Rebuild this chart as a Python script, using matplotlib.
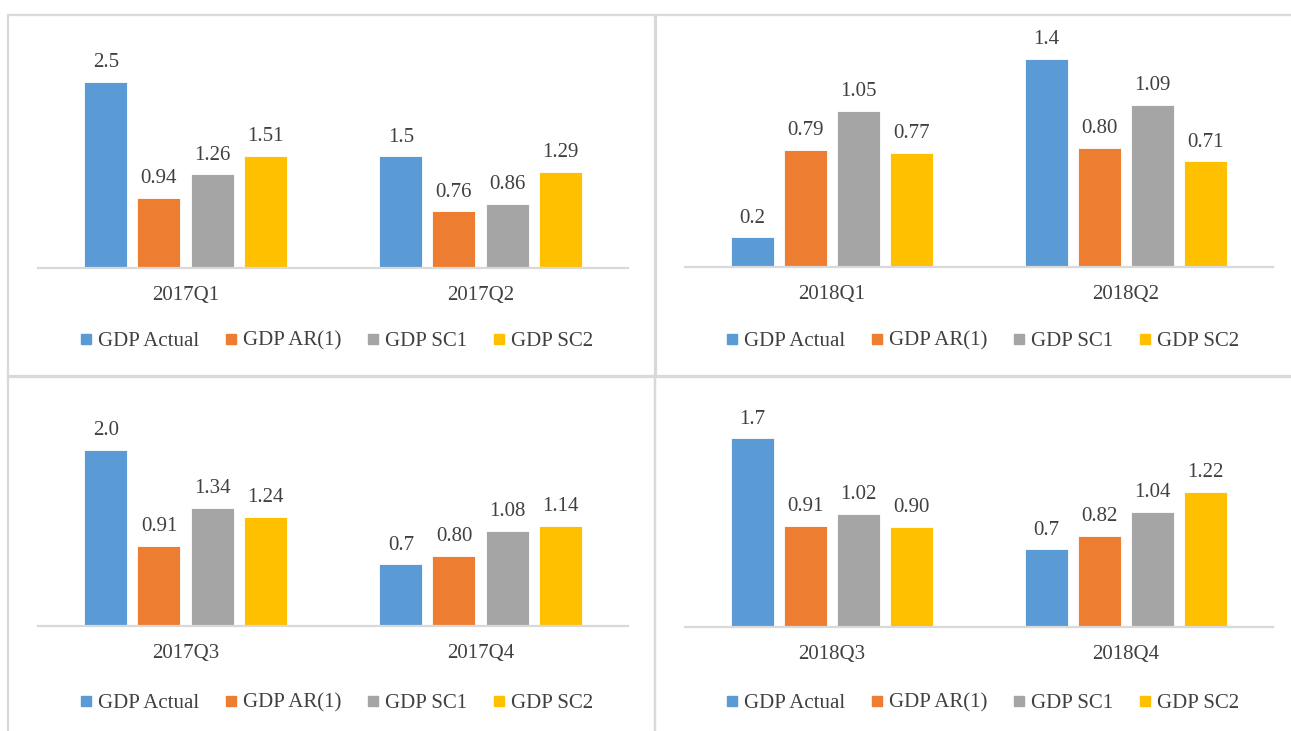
import matplotlib
matplotlib.use("Agg")
import matplotlib.pyplot as plt
from matplotlib.patches import Rectangle
from matplotlib.lines import Line2D
import numpy as np

series = ["GDP Actual", "GDP AR(1)", "GDP SC1", "GDP SC2"]
colors = ["#5B9BD5", "#ED7D31", "#A5A5A5", "#FFC000"]

quarters_tl = ["2017Q1", "2017Q2"]
quarters_tr = ["2018Q1", "2018Q2"]
quarters_bl = ["2017Q3", "2017Q4"]
quarters_br = ["2018Q3", "2018Q4"]

actual_tl = [2.5, 1.5]
ar1_tl = [0.94, 0.76]
sc1_tl = [1.26, 0.86]
sc2_tl = [1.51, 1.29]

actual_tr = [0.2, 1.4]
ar1_tr = [0.79, 0.80]
sc1_tr = [1.05, 1.09]
sc2_tr = [0.77, 0.71]

actual_bl = [2.0, 0.7]
ar1_bl = [0.91, 0.80]
sc1_bl = [1.34, 1.08]
sc2_bl = [1.24, 1.14]

actual_br = [1.7, 0.7]
ar1_br = [0.91, 0.82]
sc1_br = [1.02, 1.04]
sc2_br = [0.90, 1.22]

W, H = 1291, 731
fig = plt.figure(figsize=(W / 100, H / 100), dpi=100)
fig.patch.set_facecolor("white")
plt.rcParams["font.family"] = ["Liberation Serif", "DejaVu Serif"]
TXT = "#404040"
FS = 15


def fx(px):
    return px / W


def fy(py):
    return 1 - py / H


# panel frames
def frame(x0, y0, x1, y1):
    fig.add_artist(Rectangle((fx(x0), fy(y1)), fx(x1) - fx(x0), fy(y0) - fy(y1),
                             transform=fig.transFigure, fill=False,
                             edgecolor="#d9d9d9", linewidth=1.6))


frame(8, 15, 655, 377)
frame(656, 15, 1295, 377)
frame(8, 376, 655, 740)
frame(655, 376, 1295, 740)


def panel(x0, x1, base, ymax, pxunit, cats, data, legend_y):
    height = ymax * pxunit
    ax = fig.add_axes([fx(x0), fy(base), fx(x1) - fx(x0), height / H])
    ax.set_xlim(-0.5, 1.5)
    ax.set_ylim(0, ymax)
    x = np.arange(len(cats))
    step, width = 0.18, 0.146
    for i, (vals, c) in enumerate(zip(data, colors)):
        bars = ax.bar(x + (i - 1.5) * step, vals, width=width, color=c,
                      edgecolor="white", linewidth=0.6, label=series[i])
        fmt = "{:.1f}" if i == 0 else "{:.2f}"
        ax.bar_label(bars, labels=[fmt.format(v) for v in vals], padding=7,
                     fontsize=FS, color=TXT)
    for s in ["top", "right", "left"]:
        ax.spines[s].set_visible(False)
    ax.spines["bottom"].set_color("#d9d9d9")
    ax.spines["bottom"].set_linewidth(1.6)
    ax.set_yticks([])
    ax.set_xticks(x)
    ax.set_xticklabels(cats, fontsize=FS, color=TXT)
    ax.tick_params(axis="x", length=0, pad=13)
    ax.patch.set_alpha(0)
    handles = [Line2D([0], [0], marker="s", linestyle="none", markersize=7,
                      markerfacecolor=c, markeredgecolor=c) for c in colors]
    cx = fx((x0 + x1) / 2 + 4)
    ax.legend(handles, series, loc="center", bbox_to_anchor=(cx, fy(legend_y)),
              bbox_transform=fig.transFigure, ncol=4, frameon=False,
              fontsize=FS, labelcolor=TXT, handlelength=0.5, handletextpad=0.3,
              columnspacing=1.3, borderpad=0)
    return ax


panel(38, 628, 268, 3.0, 74.4, quarters_tl, [actual_tl, ar1_tl, sc1_tl, sc2_tl], 341)
panel(685, 1273, 267, 1.6, 148.6, quarters_tr, [actual_tr, ar1_tr, sc1_tr, sc2_tr], 341)
panel(38, 628, 626, 2.5, 88.0, quarters_bl, [actual_bl, ar1_bl, sc1_bl, sc2_bl], 703)
panel(685, 1273, 627, 2.0, 111.0, quarters_br, [actual_br, ar1_br, sc1_br, sc2_br], 703)

fig.savefig("out.png", dpi=100, facecolor="white")
